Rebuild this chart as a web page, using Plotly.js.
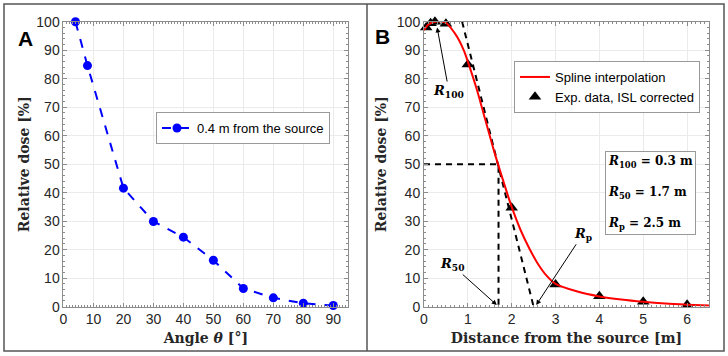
<!DOCTYPE html>
<html>
<head>
<meta charset="utf-8">
<script src="https://cdn.plot.ly/plotly-3.0.1.min.js"></script>
<style>
  html, body { margin: 0; padding: 0; background: #fff; }
  #chart { width: 728px; height: 356px; }
</style>
</head>
<body>
<div id="chart"></div>
<script>
// panel A: dose vs angle at 0.4 m
const angleDeg = [4, 8, 20, 30, 40, 50, 60, 70, 80, 90];
const doseAngle = [100, 84.6, 41.6, 29.9, 24.4, 16.3, 6.4, 3.1, 1.2, 0.4];

// panel B: dose vs distance
const distExp = [0.05, 0.15, 0.25, 0.5, 1, 2, 3, 4, 5, 6];
const doseExp = [98, 99.5, 100, 99.3, 85, 34.7, 7.8, 3.7, 1.75, 0.7];
const distSpline = [0, 0.1, 0.25, 0.5, 0.7, 0.8, 0.92, 1.0, 1.2, 1.4, 1.6, 1.8, 2.0, 2.2, 2.4, 2.6, 2.8, 3.0, 3.5, 4, 4.5, 5, 5.5, 6, 6.5];
const doseSpline = [97, 99, 100, 99.6, 96, 93.5, 89.5, 86, 76.5, 65.5, 54.5, 44.5, 35, 27, 20.5, 15, 10.8, 8, 5.3, 3.6, 2.5, 1.7, 1.1, 0.7, 0.4];

const r100 = 0.3;
const r50 = 1.7;
const rp = 2.5;
const tangentX = [0.87, rp];
const tangentY = [100, 0];

const tickFont = { family: "Liberation Sans, Arial, sans-serif", size: 14, color: "#262626" };
const titleFont = { family: "DejaVu Serif, serif", size: 14, color: "#262626", weight: "bold" };
const gridCol = "#ebebeb";
const axCol = "#8c8c8c";

function baseAxis(extra) {
	return Object.assign({
		showgrid: true,
		gridcolor: gridCol,
		zeroline: false,
		showline: true,
		linecolor: axCol,
		linewidth: 1,
		mirror: "ticks",
		ticks: "inside",
		ticklen: 4,
		tickcolor: axCol,
		tickfont: tickFont,
		automargin: false
	}, extra);
}

const traces = [
	{
		x: angleDeg,
		y: doseAngle,
		xaxis: "x",
		yaxis: "y",
		mode: "lines+markers",
		name: "0.4 m from the source",
		line: { color: "#0000ff", width: 2, dash: "dash" },
		marker: { color: "#0000ff", size: 9 },
		cliponaxis: false,
		legend: "legend"
	},
	{
		x: [0, r50, r50],
		y: [50, 50, 0],
		xaxis: "x2",
		yaxis: "y2",
		mode: "lines",
		line: { color: "#000", width: 2, dash: "6px,5px" },
		showlegend: false,
		hoverinfo: "skip"
	},
	{
		x: tangentX,
		y: tangentY,
		xaxis: "x2",
		yaxis: "y2",
		mode: "lines",
		line: { color: "#000", width: 2, dash: "6px,5px" },
		showlegend: false,
		hoverinfo: "skip"
	},
	{
		x: distExp,
		y: doseExp,
		xaxis: "x2",
		yaxis: "y2",
		mode: "markers",
		name: "Exp. data, ISL corrected",
		marker: { symbol: "triangle-up", color: "#000", size: 11 },
		cliponaxis: false,
		legend: "legend2",
		legendrank: 2
	},
	{
		x: distSpline,
		y: doseSpline,
		xaxis: "x2",
		yaxis: "y2",
		mode: "lines",
		name: "Spline interpolation",
		line: { color: "#ff0000", width: 2, shape: "spline", smoothing: 0.8 },
		cliponaxis: false,
		legend: "legend2",
		legendrank: 1
	}
];

const legendStyle = {
	bgcolor: "#fff",
	bordercolor: "#999",
	borderwidth: 1,
	font: { family: "Liberation Sans, Arial, sans-serif", size: 13, color: "#000" },
	xanchor: "left",
	yanchor: "top",
	tracegroupgap: 0
};

const annFont = { family: "DejaVu Serif, serif", size: 13, color: "#000" };

const layout = {
	width: 728,
	height: 356,
	margin: { l: 0, r: 0, t: 0, b: 0, pad: 0 },
	paper_bgcolor: "#fff",
	plot_bgcolor: "#fff",
	xaxis: baseAxis({
		domain: [0.0872, 0.4784],
		range: [0, 95],
		tick0: 0,
		dtick: 10,
		anchor: "y",
		minor: { ticks: "inside", ticklen: 2, dtick: 1, tickcolor: axCol, showgrid: false },
		title: { text: "Angle <i>θ</i> [°]", font: titleFont, standoff: 6 }
	}),
	yaxis: baseAxis({
		domain: [0.1385, 0.939],
		range: [0, 100],
		dtick: 10,
		anchor: "x",
		minor: { ticks: "inside", ticklen: 2, dtick: 2, tickcolor: axCol, showgrid: false },
		title: { text: "Relative dose [%]", font: titleFont, standoff: 3 }
	}),
	xaxis2: baseAxis({
		domain: [0.5824, 0.9739],
		range: [0, 6.5],
		dtick: 1,
		anchor: "y2",
		minor: { ticks: "inside", ticklen: 2, dtick: 0.1, tickcolor: axCol, showgrid: false },
		title: { text: "Distance from the source [m]", font: titleFont, standoff: 6 }
	}),
	yaxis2: baseAxis({
		domain: [0.1385, 0.939],
		range: [0, 100],
		dtick: 10,
		anchor: "x2",
		minor: { ticks: "inside", ticklen: 2, dtick: 2, tickcolor: axCol, showgrid: false },
		title: { text: "Relative dose [%]", font: titleFont, standoff: 6 }
	}),
	legend: Object.assign({ x: 156 / 728, y: 1 - 112 / 356 }, legendStyle),
	legend2: Object.assign({ x: 514 / 728, y: 1 - 61 / 356 }, legendStyle),
	shapes: [
		{
			type: "rect", xref: "paper", yref: "paper",
			x0: 4 / 728, x1: 724 / 728, y0: 1 - 351 / 356, y1: 1 - 4 / 356,
			line: { color: "#555", width: 1.5 }
		},
		{
			type: "line", xref: "paper", yref: "paper",
			x0: 367 / 728, x1: 367 / 728, y0: 1 - 351 / 356, y1: 1 - 4 / 356,
			line: { color: "#555", width: 1.5 }
		}
	],
	annotations: [
		{
			text: "<b>A</b>", xref: "paper", yref: "paper",
			x: 16 / 728, y: 1 - 25 / 356, showarrow: false,
			font: { family: "Liberation Sans, Arial, sans-serif", size: 21, color: "#000" }
		},
		{
			text: "<b>B</b>", xref: "paper", yref: "paper",
			x: 382 / 728, y: 1 - 23 / 356, showarrow: false,
			font: { family: "Liberation Sans, Arial, sans-serif", size: 21, color: "#000" }
		},
		{
			text: "<b><i>R</i><sub>100</sub></b>",
			xref: "x2", yref: "y2", x: r100, y: 98,
			axref: "x2", ayref: "y2", ax: 0.57, ay: 75.5,
			showarrow: true, arrowhead: 2, arrowsize: 1, arrowwidth: 1, arrowcolor: "#000",
			font: annFont
		},
		{
			text: "<b><i>R</i><sub>50</sub></b>",
			xref: "x2", yref: "y2", x: r50 - 0.04, y: 0.6,
			axref: "x2", ayref: "y2", ax: 0.63, ay: 14.8,
			showarrow: true, arrowhead: 2, arrowsize: 1, arrowwidth: 1, arrowcolor: "#000",
			font: annFont
		},
		{
			text: "<b><i>R</i><sub>p</sub></b>",
			xref: "x2", yref: "y2", x: rp + 0.06, y: 0.6,
			axref: "x2", ayref: "y2", ax: 3.62, ay: 25.4,
			showarrow: true, arrowhead: 2, arrowsize: 1, arrowwidth: 1, arrowcolor: "#000",
			font: annFont
		},
		{
			text: "<b><i>R</i><sub>100</sub> = " + r100 + " m</b><br><br>" +
				"<b><i>R</i><sub>50</sub> = " + r50 + " m</b><br><br>" +
				"<b><i>R</i><sub>p</sub> = " + rp + " m</b>",
			xref: "paper", yref: "paper",
			x: 605 / 728, y: 1 - 151 / 356,
			xanchor: "left", yanchor: "top", align: "left",
			showarrow: false,
			bgcolor: "#fff", bordercolor: "#999", borderwidth: 1, borderpad: 2,
			font: { family: "DejaVu Serif, serif", size: 12, color: "#000" }
		}
	]
};

Plotly.newPlot("chart", traces, layout, { displayModeBar: false, staticPlot: true });
</script>
</body>
</html>
